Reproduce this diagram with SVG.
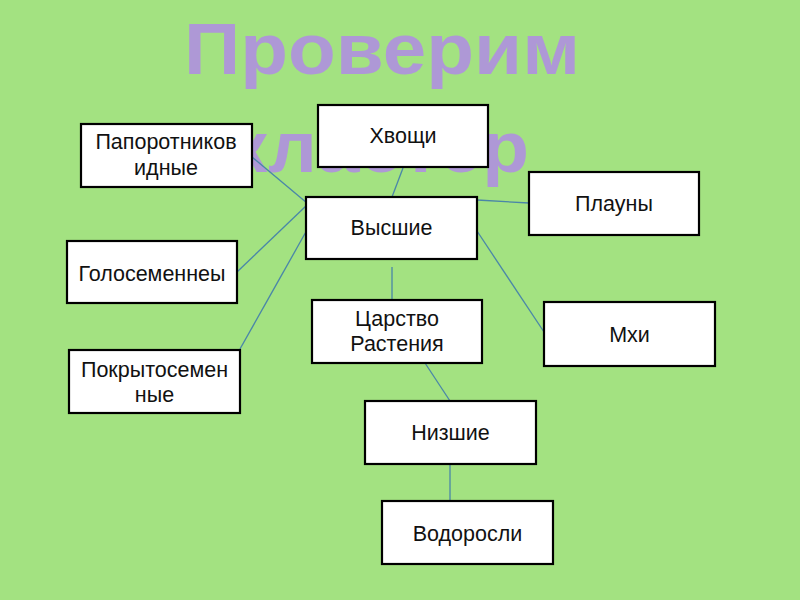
<svg xmlns="http://www.w3.org/2000/svg" width="800" height="600" viewBox="0 0 800 600">
<style>
.bg{fill:#a3e281}
.title{font-family:"Liberation Sans",Arial,sans-serif;font-weight:bold;font-size:72px;fill:#ae98d6}
.box{fill:#ffffff;stroke:#000000;stroke-width:2.2}
.lbl{font-family:"Liberation Sans",Arial,sans-serif;font-size:21.5px;fill:#111111;text-anchor:middle}
.edge{stroke:#4a86a8;stroke-width:1.3;fill:none}
</style>
<rect class="bg" x="0" y="0" width="800" height="600"/>
<g id="title">
<text class="title" x="184" y="74" textLength="396" lengthAdjust="spacingAndGlyphs">Проверим</text>
<text class="title" x="229" y="172" textLength="300" lengthAdjust="spacingAndGlyphs">кластер</text>
</g>
<g id="connectors">
<line class="edge" x1="403" y1="168" x2="392" y2="197"/>
<line class="edge" x1="252" y1="157" x2="307" y2="203"/>
<line class="edge" x1="237" y1="272" x2="307" y2="205"/>
<line class="edge" x1="240" y1="349" x2="307" y2="230"/>
<line class="edge" x1="477" y1="200" x2="529" y2="203"/>
<line class="edge" x1="477" y1="231" x2="544" y2="332"/>
<line class="edge" x1="392" y1="267" x2="392" y2="301"/>
<line class="edge" x1="425" y1="363" x2="450" y2="401"/>
<line class="edge" x1="450" y1="464" x2="450" y2="501"/>
</g>
<g id="node-hvoshi">
<rect class="box" x="318" y="105" width="170" height="62"/>
<text class="lbl" x="403" y="143">Хвощи</text>
</g>
<g id="node-paporotnik">
<rect class="box" x="81" y="124" width="171" height="63"/>
<text class="lbl" x="166" y="149">Папоротников</text>
<text class="lbl" x="166" y="175">идные</text>
</g>
<g id="node-vysshie">
<rect class="box" x="306" y="197" width="171" height="62"/>
<text class="lbl" x="391.5" y="235">Высшие</text>
</g>
<g id="node-plauny">
<rect class="box" x="529" y="172" width="170" height="63"/>
<text class="lbl" x="614" y="211">Плауны</text>
</g>
<g id="node-golosemennye">
<rect class="box" x="67" y="241" width="170" height="62"/>
<text class="lbl" x="152" y="281">Голосеменнеы</text>
</g>
<g id="node-tsarstvo">
<rect class="box" x="312" y="300" width="170" height="63"/>
<text class="lbl" x="397" y="326">Царство</text>
<text class="lbl" x="397" y="351">Растения</text>
</g>
<g id="node-mhi">
<rect class="box" x="544" y="302" width="171" height="64"/>
<text class="lbl" x="629.5" y="342">Мхи</text>
</g>
<g id="node-pokrytosemennye">
<rect class="box" x="69" y="350" width="171" height="63"/>
<text class="lbl" x="154.5" y="377">Покрытосемен</text>
<text class="lbl" x="154.5" y="402">ные</text>
</g>
<g id="node-nizshie">
<rect class="box" x="365" y="401" width="171" height="63"/>
<text class="lbl" x="450.5" y="440">Низшие</text>
</g>
<g id="node-vodorosli">
<rect class="box" x="382" y="501" width="171" height="63"/>
<text class="lbl" x="467.5" y="541">Водоросли</text>
</g>
</svg>
